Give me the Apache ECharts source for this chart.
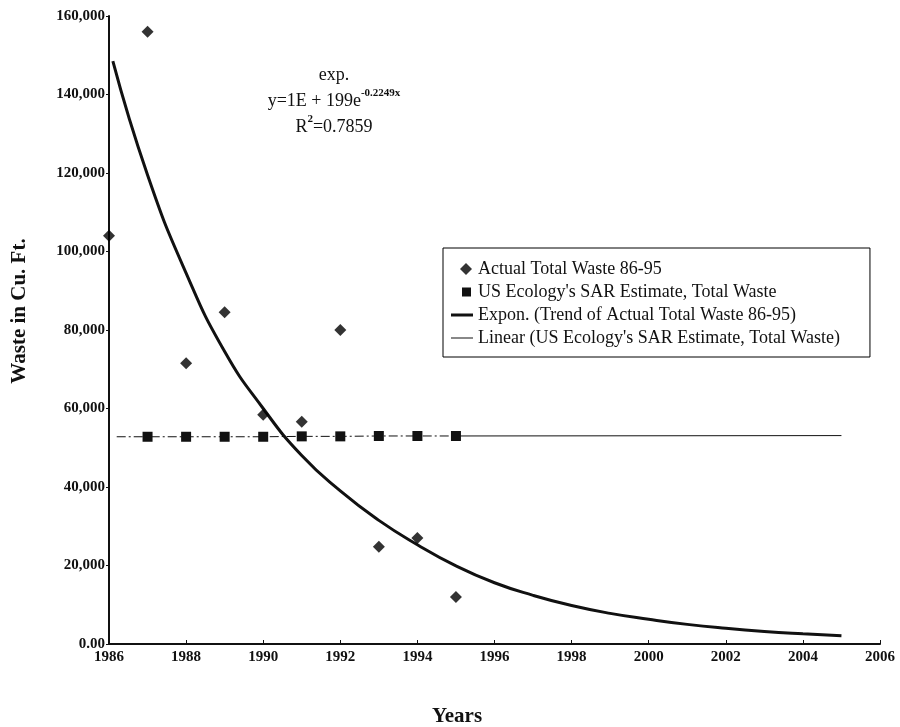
<!DOCTYPE html>
<html>
<head>
<meta charset="utf-8">
<script src="https://cdn.jsdelivr.net/npm/echarts@6/dist/echarts.min.js"></script>
<style>
  html, body { margin: 0; padding: 0; background: #fff; }
  #chart { width: 900px; height: 727px; }
</style>
</head>
<body>
<div id="chart"></div>
<script>
// 实际废物量 86-95
const actualYears = [1986, 1987, 1988, 1989, 1990, 1991, 1992, 1993, 1994, 1995];
const actualWaste = [104000, 156000, 71500, 84500, 58400, 56600, 80000, 24800, 27000, 12000];

// US Ecology SAR 估计
const sarYears = [1986.2, 1987, 1988, 1989, 1990, 1991, 1992, 1993, 1994, 1995];
const sarWaste = [52800, 52800, 52800, 52800, 52800, 52900, 52900, 53000, 53000, 53000];

// 线性趋势（1995 以后）
const linearYears = [1995, 2005];
const linearWaste = [53000, 53100];

// 指数趋势线
const expYears = [1986.1, 1987, 1988, 1989, 1990, 1991, 1992, 1993, 1994, 1995,
  1996, 1997, 1998, 1999, 2000, 2001, 2002, 2003, 2004, 2005];
const expWaste = [148500, 119500, 94500, 74500, 60000, 48000, 39000, 31500, 25300, 19900,
  15600, 12400, 9800, 7800, 6300, 5000, 4000, 3200, 2600, 2100];

const names = [
  'Actual Total Waste 86-95',
  "US Ecology's SAR Estimate, Total Waste",
  'Expon. (Trend of Actual Total Waste 86-95)',
  "Linear (US Ecology's SAR Estimate, Total Waste)"
];

const zip = (xs, ys) => xs.map((x, i) => [x, ys[i]]);
const serif = '"Liberation Serif", "DejaVu Serif", serif';

const chart = echarts.init(document.getElementById('chart'));

const sarData = zip(sarYears, sarWaste).map((p, i) => (
  i === 0 ? { value: p, symbol: 'none' } : { value: p }
));

// 图例图标：用不可见的 M 点撑开边框，避免被拉伸
const iconDiamond = 'path://M0,0M22,13M15,0.5L21,6.5L15,12.5L9,6.5Z';
const iconSquare = 'path://M0,0M22,13M11,2H20V11H11Z';
const iconThick = 'path://M0,0M22,13M0,5H22V8H0Z';
const iconThin = 'path://M0,0M22,13M0,6H22V7H0Z';

chart.setOption({
  animation: false,
  backgroundColor: '#fff',
  grid: { left: 109, right: 20, top: 16, bottom: 83 },
  legend: {
    orient: 'vertical',
    left: 443,
    top: 248,
    padding: [12, 30, 10, 8],
    itemGap: 5,
    itemWidth: 22,
    itemHeight: 13,
    borderColor: '#000',
    borderWidth: 1,
    textStyle: { fontFamily: serif, fontSize: 18, color: '#111' },
    data: [
      { name: names[0], icon: iconDiamond },
      { name: names[1], icon: iconSquare },
      { name: names[2], icon: iconThick },
      { name: names[3], icon: iconThin }
    ]
  },
  xAxis: {
    type: 'value',
    min: 1986,
    max: 2006,
    interval: 2,
    axisLine: { lineStyle: { color: '#111', width: 2 } },
    axisTick: { inside: true, length: 4, lineStyle: { color: '#111' } },
    splitLine: { show: false },
    axisLabel: {
      fontFamily: serif, fontSize: 15, fontWeight: 'bold', color: '#111', margin: 6,
      formatter: v => String(v)
    }
  },
  yAxis: {
    type: 'value',
    min: 0,
    max: 160000,
    interval: 20000,
    axisLine: { show: true, lineStyle: { color: '#111', width: 2 } },
    axisTick: { show: true, length: 3, lineStyle: { color: '#111' } },
    splitLine: { show: false },
    axisLabel: {
      fontFamily: serif, fontSize: 15, fontWeight: 'bold', color: '#111', margin: 4,
      formatter: v => v === 0 ? '0.00' : v.toLocaleString('en-US')
    }
  },
  graphic: [
    {
      type: 'text', x: 334, y: 62,
      style: {
        text: '{n|exp.}\n{n|y=1E + 199e}{s|-0.2249x}\n{n|R}{s|2}{n|=0.7859}',
        align: 'center',
        fontFamily: serif,
        rich: {
          n: { fontSize: 18, fontFamily: serif, fill: '#111', lineHeight: 26, align: 'center' },
          s: { fontSize: 11, fontFamily: serif, fill: '#111', fontWeight: 'bold', verticalAlign: 'top', lineHeight: 26 }
        }
      }
    },
    {
      type: 'text', x: 457, y: 717,
      style: {
        text: 'Years', align: 'center', verticalAlign: 'middle',
        fontFamily: serif, fontSize: 21, fontWeight: 'bold', fill: '#111'
      }
    },
    {
      type: 'text', x: 20, y: 311, rotation: Math.PI / 2,
      style: {
        text: 'Waste in Cu. Ft.', align: 'center', verticalAlign: 'middle',
        fontFamily: serif, fontSize: 21, fontWeight: 'bold', fill: '#111'
      }
    }
  ],
  series: [
    {
      name: names[1],
      type: 'line',
      data: sarData,
      symbol: 'rect',
      symbolSize: 10,
      itemStyle: { color: '#111' },
      lineStyle: { color: '#111', width: 1, type: [9, 3, 2, 3] },
      z: 3
    },
    {
      name: names[3],
      type: 'line',
      data: zip(linearYears, linearWaste),
      symbol: 'none',
      itemStyle: { color: '#111' },
      lineStyle: { color: '#111', width: 1 },
      z: 2
    },
    {
      name: names[2],
      type: 'line',
      data: zip(expYears, expWaste),
      symbol: 'none',
      smooth: true,
      itemStyle: { color: '#111' },
      lineStyle: { color: '#111', width: 3 },
      z: 4
    },
    {
      name: names[0],
      type: 'scatter',
      data: zip(actualYears, actualWaste),
      symbol: 'diamond',
      symbolSize: 12,
      itemStyle: { color: '#000' },
      z: 5
    }
  ]
});

window.addEventListener('resize', () => chart.resize());
</script>
</body>
</html>
